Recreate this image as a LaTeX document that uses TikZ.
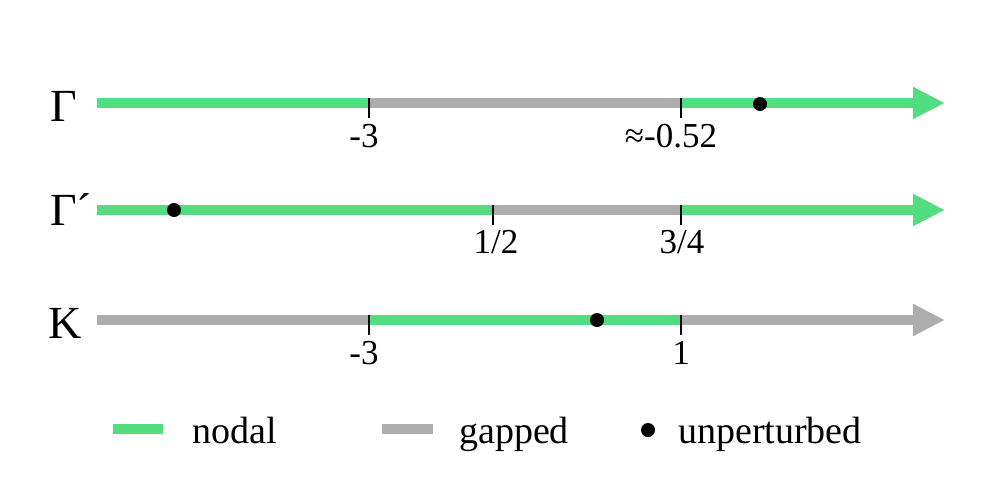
\documentclass[tikz,border=0pt]{standalone}
\usepackage{fontspec}
\setmainfont{Liberation Serif}
\usetikzlibrary{arrows.meta}
\definecolor{nodalc}{RGB}{82,222,128}
\definecolor{gapc}{RGB}{173,173,173}
\tikzset{
  nodalseg/.style={draw=nodalc, line width=10pt},
  gapseg/.style={draw=gapc, line width=10pt},
  nodalarr/.style={nodalseg, -{Triangle[length=32pt,width=30pt]}},
  gaparr/.style={gapseg, -{Triangle[length=32pt,width=30pt]}},
  tick/.style={draw=black, line width=1.2pt},
  ticklab/.style={anchor=base, inner sep=0pt, font=\fontsize{35}{40}\selectfont},
  rowlab/.style={anchor=base, inner sep=0pt, font=\fontsize{46}{50}\selectfont},
  leglab/.style={anchor=base west, inner sep=0pt, font=\fontsize{38}{44}\selectfont},
  udot/.style={circle, fill=black, inner sep=0pt, minimum size=14pt},
  legdot/.style={circle, fill=black, inner sep=0pt, minimum size=14pt},
}
\begin{document}
\begin{tikzpicture}[x=1pt,y=-1pt]
\useasboundingbox (0,0) rectangle (996,483);
% Gamma row
\coordinate (g0) at (97,103);
\coordinate (g1) at (369,103);
\coordinate (g2) at (681,103);
\coordinate (g3) at (945,103);
\draw[nodalseg] (g0) -- (g1);
\draw[gapseg] (g1) -- (g2);
\draw[nodalarr] (g2) -- (g3);
\coordinate (g1t) at (369,118);
\coordinate (g2t) at (681,118);
\draw[tick] (369,98) -- (g1t);
\draw[tick] (681,98) -- (g2t);
\node[udot] (gd) at (760,104) {};
\node[rowlab] (gl) at (64,121) {Γ};
\node[ticklab] (gt1) at (364,147) {-3};
\node[ticklab] (gt2) at (671,147) {≈-0.52};
% Gamma' row
\coordinate (p0) at (97,210);
\coordinate (p1) at (493,210);
\coordinate (p2) at (681,210);
\coordinate (p3) at (945,210);
\draw[nodalseg] (p0) -- (p1);
\draw[gapseg] (p1) -- (p2);
\draw[nodalarr] (p2) -- (p3);
\coordinate (p1t) at (493,225);
\coordinate (p2t) at (681,225);
\draw[tick] (493,205) -- (p1t);
\draw[tick] (681,205) -- (p2t);
\node[udot] (pd) at (174,210) {};
\node[rowlab] (pl) at (71,225) {Γ´};
\node[ticklab] (pt1) at (496,253) {1/2};
\node[ticklab] (pt2) at (682,253) {3/4};
% K row
\coordinate (k0) at (97,320);
\coordinate (k1) at (369,320);
\coordinate (k2) at (681,320);
\coordinate (k3) at (945,320);
\draw[gapseg] (k0) -- (k1);
\draw[nodalseg] (k1) -- (k2);
\draw[gaparr] (k2) -- (k3);
\coordinate (k1t) at (369,335);
\coordinate (k2t) at (681,335);
\draw[tick] (369,315) -- (k1t);
\draw[tick] (681,315) -- (k2t);
\node[udot] (kd) at (597,320) {};
\node[rowlab] (kl) at (65,338) {K};
\node[ticklab] (kt1) at (364,364) {-3};
\node[ticklab] (kt2) at (681,364) {1};
% legend
\coordinate (la0) at (113,429);
\coordinate (la1) at (163,429);
\draw[nodalseg] (la0) -- (la1);
\node[leglab] (ln) at (192,443) {nodal};
\coordinate (lb0) at (382,429);
\coordinate (lb1) at (433,429);
\draw[gapseg] (lb0) -- (lb1);
\node[leglab] (lg) at (459,443) {gapped};
\node[legdot] (ld) at (648,430) {};
\node[leglab] (lu) at (678,443) {unperturbed};
\end{tikzpicture}
\end{document}
